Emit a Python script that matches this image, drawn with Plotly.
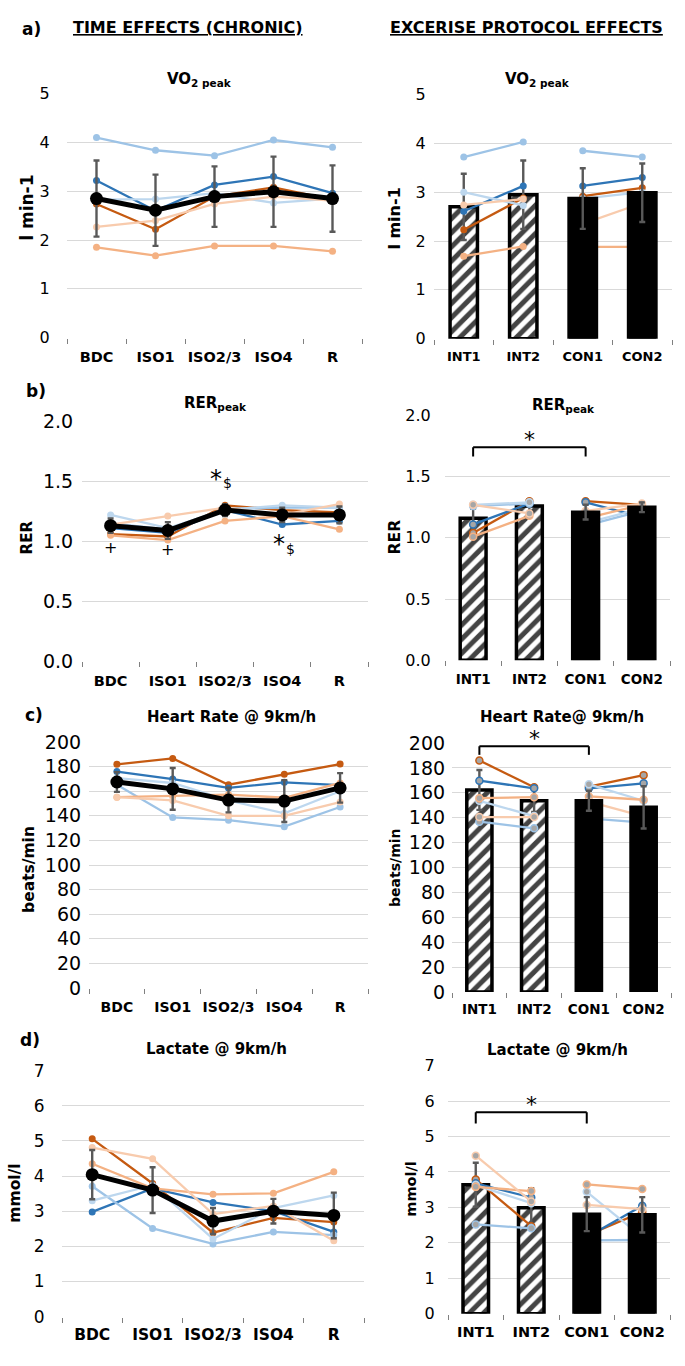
import plotly.graph_objects as go

W, H = 685, 1366
FONT = "DejaVu Sans"

# ---------------- data ----------------
time_cats = ["BDC", "ISO1", "ISO2/3", "ISO4", "R"]
prot_cats = ["INT1", "INT2", "CON1", "CON2"]

# subjects: S1 dark orange, S2 blue, S3 light blue, S4 pale blue, S5 light orange, S6 peach
subject_colors = ["#C55A11", "#2E75B6", "#9DC3E6", "#BDD7EE", "#F4B183", "#F8CBAD"]

# a) VO2 peak (l min-1)
vo2_time_mean = [2.85, 2.61, 2.89, 2.99, 2.85]
vo2_time_sd = [0.78, 0.73, 0.62, 0.72, 0.68]
vo2_time_subj = [
    [2.74, 2.22, 2.89, 3.08, 2.83],
    [3.22, 2.60, 3.13, 3.30, 2.96],
    [4.10, 3.84, 3.73, 4.05, 3.90],
    [2.83, 2.84, 2.96, 2.76, 2.85],
    [1.85, 1.68, 1.88, 1.88, 1.77],
    [2.27, 2.40, 2.74, 2.89, 2.81],
]
vo2_prot_mean = [2.70, 2.95, 2.87, 2.99]
vo2_prot_sd = [0.68, 0.70, 0.62, 0.60]
vo2_prot_subj = [
    [2.23, 2.88, 2.92, 3.09],
    [2.61, 3.13, 3.13, 3.30],
    [3.72, 4.03, 3.85, 3.72],
    [3.00, 2.73, 2.87, 3.00],
    [1.69, 1.89, 1.88, 1.88],
    [2.74, 2.86, 2.35, 2.78],
]

# b) RER peak
rer_time_mean = [1.13, 1.09, 1.26, 1.22, 1.22]
rer_time_sd = [0.06, 0.07, 0.05, 0.06, 0.07]
rer_time_subj = [
    [1.06, 1.04, 1.30, 1.26, 1.24],
    [1.11, 1.07, 1.26, 1.14, 1.17],
    [1.15, 1.10, 1.27, 1.28, 1.28],
    [1.22, 1.11, 1.26, 1.30, 1.28],
    [1.05, 1.01, 1.17, 1.21, 1.10],
    [1.14, 1.21, 1.28, 1.22, 1.31],
]
rer_prot_mean = [1.16, 1.26, 1.21, 1.25]
rer_prot_sd = [0.08, 0.05, 0.06, 0.04]
rer_prot_subj = [
    [1.04, 1.30, 1.30, 1.27],
    [1.11, 1.28, 1.29, 1.17],
    [1.26, 1.28, 1.10, 1.22],
    [1.27, 1.29, 1.12, 1.24],
    [1.01, 1.18, 1.16, 1.27],
    [1.27, 1.20, 1.22, 1.28],
]

# c) Heart rate @ 9 km/h (beats/min)
hr_time_mean = [167.5, 161.9, 152.8, 152.0, 162.7]
hr_time_sd = [8, 17, 10, 17, 12]
hr_time_subj = [
    [181.9, 186.7, 165.3, 173.9, 182.1],
    [176.0, 169.9, 162.7, 167.2, 165.0],
    [165.3, 138.7, 136.5, 131.2, 147.2],
    [170.7, 166.7, 152.5, 142.0, 160.0],
    [155.2, 156.0, 157.3, 154.7, 166.7],
    [155.2, 152.5, 140.0, 140.0, 151.2],
]
hr_prot_mean = [162.3, 153.6, 153.6, 148.3]
hr_prot_sd = [16, 9, 8, 17]
hr_prot_subj = [
    [186.0, 164.4, 165.0, 174.2],
    [169.7, 163.6, 163.6, 167.6],
    [136.8, 131.5, 139.5, 136.0],
    [153.6, 141.3, 166.8, 153.6],
    [155.7, 156.5, 157.1, 154.4],
    [140.5, 140.5, 153.0, 141.0],
]

# d) Lactate @ 9 km/h (mmol/l)
lac_time_mean = [4.04, 3.60, 2.72, 3.00, 2.88]
lac_time_sd = [0.70, 0.65, 0.37, 0.35, 0.65]
lac_time_subj = [
    [5.06, 3.79, 2.39, 2.81, 2.69],
    [2.98, 3.65, 3.25, 3.00, 2.41],
    [3.71, 2.51, 2.07, 2.41, 2.32],
    [3.30, 3.74, 2.21, 3.09, 3.45],
    [4.35, 3.65, 3.48, 3.51, 4.12],
    [4.81, 4.49, 2.92, 3.15, 2.16],
]
lac_prot_mean = [3.64, 2.99, 2.81, 2.79]
lac_prot_sd = [0.62, 0.55, 0.48, 0.50]
lac_prot_subj = [
    [3.79, 2.47, 2.21, 2.87],
    [3.68, 3.28, 2.16, 3.05],
    [2.52, 2.41, 2.07, 2.08],
    [3.63, 3.12, 3.44, 2.16],
    [3.58, 3.46, 3.65, 3.52],
    [4.46, 3.17, 3.07, 2.95],
]

# ---------------- layout helpers ----------------
fig = go.Figure()
layout = dict(
    width=W, height=H, autosize=False,
    margin=dict(l=0, r=0, t=0, b=0),
    paper_bgcolor="white", plot_bgcolor="white",
    showlegend=False,
)

# panel geometry in pixels: x0, x1, ytop, ybottom, ymax, dtick, fmt, ytick size, xtick size, y standoff, x standoff
panels = [
    (67, 362, 84, 332, 5, 1, "d", 16, 14.5, 13, 6, time_cats),
    (434, 672, 85, 333, 5, 1, "d", 16, 13, 4, 6, prot_cats),
    (82, 368, 417, 661, 2.0, 0.5, ".1f", 19, 14.5, 4, 6, time_cats),
    (445, 670, 411, 660, 2.0, 0.5, ".1f", 16, 13.5, 10, 6, prot_cats),
    (89, 368, 743, 993, 200, 20, "d", 19, 14, 3, 6, time_cats),
    (452, 671, 744, 997, 200, 20, "d", 19, 13.5, 2, 5, prot_cats),
    (62, 364, 1077, 1327, 7, 1, "d", 17, 15.5, 13, 4, time_cats),
    (448, 670, 1072, 1324, 7, 1, "d", 16, 14.5, 9, 5, prot_cats),
]


def names(i):
    return ("x" if i == 1 else f"x{i}", "y" if i == 1 else f"y{i}")


for i, (x0, x1, yt, yb, ymax, dt, fmt, ysz, xsz, ysoff, xsoff, cats) in enumerate(panels, start=1):
    xa, ya = names(i)
    layout["xaxis" if i == 1 else f"xaxis{i}"] = dict(
        domain=[x0 / W, x1 / W], anchor=ya, type="category",
        categoryorder="array", categoryarray=cats,
        range=[-0.5, len(cats) - 0.5],
        tickson="boundaries", ticks="outside", ticklen=5, tickcolor="#808080",
        showline=True, linecolor="#808080", linewidth=1.2,
        showgrid=False, zeroline=False, fixedrange=True,
        tickangle=0, ticklabelstandoff=xsoff,
        tickfont=dict(family=FONT, size=xsz, color="black", weight="bold"),
    )
    layout["yaxis" if i == 1 else f"yaxis{i}"] = dict(
        domain=[1 - yb / H, 1 - yt / H], anchor=xa,
        range=[0, ymax], dtick=dt, tick0=0, tickformat=fmt,
        showline=True, linecolor="#808080", linewidth=1.2,
        showgrid=True, gridcolor="#D9D9D9", gridwidth=1,
        zeroline=False, ticks="", fixedrange=True,
        ticklabelstandoff=ysoff,
        tickfont=dict(family=FONT, size=ysz, color="black"),
    )


def draw_time(i, mean, sd, subj):
    xa, ya = names(i)
    for s, c in zip(subj, subject_colors):
        fig.add_trace(go.Scatter(
            x=time_cats, y=s, mode="lines+markers", xaxis=xa, yaxis=ya,
            line=dict(color=c, width=2.3), marker=dict(size=7, color=c),
        ))
    fig.add_trace(go.Scatter(
        x=time_cats, y=mean, mode="lines+markers", xaxis=xa, yaxis=ya,
        line=dict(color="black", width=5), marker=dict(size=13, color="black"),
        error_y=dict(type="data", array=sd, color="#595959", thickness=2.4, width=3),
    ))


def draw_prot(i, mean, sd, subj, gray):
    xa, ya = names(i)

    def mk(c):
        if gray:
            return dict(size=7, color="#A6A6A6", line=dict(color=c, width=1.5))
        return dict(size=7, color=c)

    # CON pairs drawn behind the bars
    for s, c in zip(subj, subject_colors):
        fig.add_trace(go.Scatter(
            x=prot_cats[2:], y=s[2:], mode="lines+markers", xaxis=xa, yaxis=ya,
            line=dict(color=c, width=2.3), marker=mk(c), zorder=0,
        ))
    fig.add_trace(go.Bar(
        x=prot_cats, y=mean, width=0.46, xaxis=xa, yaxis=ya, zorder=1,
        marker=dict(
            color=["white", "white", "black", "black"],
            line=dict(color="black", width=3.5),
            pattern=dict(shape=["/", "/", "", ""], fgcolor="black", bgcolor="white",
                         fgopacity=1, size=10, solidity=0.5),
        ),
        error_y=dict(type="data", array=sd, color="#595959", thickness=2.4, width=3),
    ))
    # INT pairs drawn in front of the bars
    for s, c in zip(subj, subject_colors):
        fig.add_trace(go.Scatter(
            x=prot_cats[:2], y=s[:2], mode="lines+markers", xaxis=xa, yaxis=ya,
            line=dict(color=c, width=2.3), marker=mk(c), zorder=2,
        ))


draw_time(1, vo2_time_mean, vo2_time_sd, vo2_time_subj)
draw_prot(2, vo2_prot_mean, vo2_prot_sd, vo2_prot_subj, False)
draw_time(3, rer_time_mean, rer_time_sd, rer_time_subj)
draw_prot(4, rer_prot_mean, rer_prot_sd, rer_prot_subj, True)
draw_time(5, hr_time_mean, hr_time_sd, hr_time_subj)
draw_prot(6, hr_prot_mean, hr_prot_sd, hr_prot_subj, True)
draw_time(7, lac_time_mean, lac_time_sd, lac_time_subj)
draw_prot(8, lac_prot_mean, lac_prot_sd, lac_prot_subj, True)

# ---------------- text ----------------
anns = []


def pann(text, xp, yp, size, bold=True, angle=0):
    anns.append(dict(
        xref="paper", yref="paper", x=xp / W, y=1 - yp / H,
        xanchor="center", yanchor="middle", showarrow=False, text=text,
        textangle=angle,
        font=dict(family=FONT, size=size, color="black", weight="bold" if bold else "normal"),
    ))


pann("a)", 32, 18, 17)
pann("<u>TIME EFFECTS (CHRONIC)</u>", 188, 17, 16)
pann("<u>EXCERISE PROTOCOL EFFECTS</u>", 526, 17, 16)
pann("b)", 36, 386, 17)
pann("c)", 34, 716, 17)
pann("d)", 30, 1046, 17)

pann("VO<sub>2 peak</sub>", 200, 70, 15)
pann("VO<sub>2 peak</sub>", 537, 70, 15)
pann("RER<sub>peak</sub>", 215, 399, 15)
pann("RER<sub>peak</sub>", 563, 401, 15)
pann("Heart Rate @ 9km/h", 231, 718, 15)
pann("Heart Rate@ 9km/h", 562, 718, 15)
pann("Lactate @ 9km/h", 216, 1055, 15)
pann("Lactate @ 9km/h", 557, 1056, 15)

pann("l min-1", 27, 200, 17, angle=-90)
pann("l min-1", 395, 211, 16, angle=-90)
pann("RER", 27, 535, 15, angle=-90)
pann("RER", 395, 535, 15.5, angle=-90)
pann("beats/min", 29, 873, 15.5, angle=-90)
pann("beats/min", 395, 871, 14, angle=-90)
pann("mmol/l", 15, 1202, 15.5, angle=-90)
pann("mmol/l", 411, 1198, 14.5, angle=-90)


def dann(i, x, y, text, size, yshift=0):
    xa, ya = names(i)
    anns.append(dict(
        xref=xa, yref=ya, x=x, y=y, text=text, showarrow=False,
        xanchor="center", yanchor="middle", yshift=yshift,
        font=dict(family=FONT, size=size, color="black"),
    ))


# significance symbols on RER time panel
dann(3, 0, 0.95, "+", 16)
dann(3, 1, 0.93, "+", 16)
dann(3, 1.84, 1.52, "*", 24)
dann(3, 2.04, 1.49, "$", 14)
dann(3, 2.94, 0.98, "*", 24)
dann(3, 3.15, 0.94, "$", 14)

# brackets on protocol panels
shapes = []


def bracket(i, ytop, yleg, star_shift):
    xa, ya = names(i)
    for (a, b, c, d) in [(0, yleg, 0, ytop), (0, ytop, 2, ytop), (2, ytop, 2, yleg)]:
        shapes.append(dict(type="line", xref=xa, yref=ya, x0=a, y0=b, x1=c, y1=d,
                           line=dict(color="black", width=2)))
    dann(i, 1, ytop, "*", 22, yshift=star_shift)


bracket(4, 1.74, 1.665, 8)
bracket(6, 197.4, 190.5, 8)
bracket(8, 5.69, 5.37, 8)

layout["annotations"] = anns
layout["shapes"] = shapes
fig.update_layout(**layout)

fig.write_html(
    "out.html",
    config={"displayModeBar": False},
    post_script=(
        "document.body.style.margin='0';document.body.style.padding='0';"
        "document.documentElement.style.overflow='hidden';document.body.style.overflow='hidden';"
    ),
)
